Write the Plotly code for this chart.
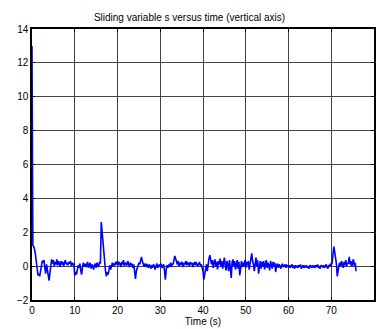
import numpy as np
import plotly.graph_objects as go

# Sliding variable s, sampled every 0.2 s from 0 to 75.8 s
dt = 0.2
s_values = [
    13.0, 1.25, 1.15, 1.0, 0.7, 0.35, -0.2, -0.55, -0.45, -0.6,
    -0.3, 0.05, 0.3, 0.25, 0.35, -0.1, -0.45, 0.1, -0.3, -0.55,
    -0.85, -0.4, 0.2, 0.4, 0.15, 0.35, 0.0, 0.25, 0.1, 0.4,
    0.05, 0.3, 0.15, -0.05, 0.3, 0.1, 0.25, 0.0, 0.2, 0.35,
    0.1, 0.2, 0.05, 0.25, 0.15, 0.3, 0.0, 0.2, 0.1, 0.15,
    -0.55, -0.35, -0.5, -0.2, 0.05, -0.1, 0.15, -0.25, -0.5, -0.1,
    0.2, 0.0, 0.15, -0.05, 0.1, 0.25, -0.1, 0.05, 0.2, -0.15,
    0.1, 0.0, -0.2, 0.05, 0.15, -0.1, 0.2, 0.05, -0.05, 0.25,
    0.15, 2.6, 2.0, 1.3, 0.6, 0.05, -0.3, -0.6, -0.35, -0.5,
    -0.1, 0.05, -0.2, 0.1, 0.2, 0.0, 0.15, 0.05, 0.25, 0.1,
    0.3, 0.05, 0.2, 0.15, -0.05, 0.25, 0.1, 0.35, 0.0, 0.2,
    0.15, 0.05, 0.3, 0.1, -0.05, 0.2, 0.05, 0.15, -0.1, 0.1,
    -0.2, -0.75, -0.3, -0.1, 0.05, 0.2, 0.1, 0.35, 0.55, 0.3,
    0.1, 0.0, 0.15, -0.05, 0.1, 0.05, -0.1, 0.1, 0.0, -0.15,
    0.05, -0.1, 0.1, 0.0, -0.2, 0.05, 0.15, -0.1, 0.0, 0.1,
    -0.05, 0.15, -0.1, 0.05, 0.1, -0.3, -0.8, -0.2, 0.05, -0.1,
    0.1, 0.0, 0.2, -0.05, 0.15, 0.1, 0.3, 0.6, 0.45, 0.2,
    0.1, 0.3, 0.0, 0.2, 0.05, 0.25, 0.15, -0.05, 0.2, 0.1,
    0.3, 0.05, 0.2, 0.15, 0.0, 0.25, 0.1, 0.2, -0.05, 0.15,
    0.2, 0.05, 0.25, 0.1, 0.0, 0.15, 0.2, 0.05, 0.1, -0.1,
    -0.3, -0.8, -0.55, -0.2, 0.1, -0.3, 0.2, 0.45, 0.65, 0.3,
    0.1, 0.35, -0.1, 0.2, 0.4, 0.0, 0.25, -0.2, 0.3, 0.1,
    0.45, 0.0, 0.3, -0.15, 0.25, 0.5, 0.05, -0.25, 0.3, 0.1,
    -0.3, 0.35, -0.1, -0.7, 0.2, 0.4, 0.0, 0.3, -0.2, 0.15,
    0.35, -0.15, 0.25, -0.55, 0.1, 0.3, -0.05, 0.2, 0.0, 0.35,
    -0.1, 0.25, 0.05, 0.3, -0.2, 0.2, 0.45, 0.75, 0.3, 0.1,
    -0.3, 0.2, 0.5, 0.0, 0.35, -0.45, 0.1, 0.3, -0.15, 0.25,
    0.0, 0.3, -0.2, 0.15, 0.35, -0.1, 0.2, 0.05, -0.25, 0.3,
    0.1, -0.15, 0.25, 0.0, 0.2, -0.35, 0.05, 0.15, -0.1, 0.1,
    0.0, -0.15, 0.05, 0.1, -0.05, 0.0, 0.1, -0.1, 0.05, 0.0,
    -0.05, 0.05, -0.1, 0.0, 0.1, -0.05, 0.0, -0.15, 0.05, -0.05,
    0.0, -0.1, 0.05, -0.05, 0.1, -0.15, 0.0, 0.05, -0.1, 0.0,
    -0.05, 0.05, -0.1, 0.0, -0.15, 0.05, 0.0, -0.1, 0.05, -0.05,
    0.0, -0.1, 0.05, -0.05, 0.1, -0.1, 0.0, -0.15, 0.05, 0.0,
    -0.05, 0.05, -0.1, 0.0, 0.1, -0.05, -0.15, 0.05, 0.0, 0.1,
    0.05, 0.2, 0.55, 1.15, 0.85, 0.5, 0.15, -0.6, -0.2, 0.05,
    0.2, 0.0, 0.3, 0.1, -0.1, 0.25, 0.05, 0.35, 0.0, 0.2,
    0.15, 0.55, 0.1, 0.3, -0.05, 0.25, 0.4, 0.0, 0.2, -0.3,
]
time_s = np.arange(len(s_values)) * dt

x_ticks = list(range(0, 81, 10))
y_ticks = list(range(-2, 15, 2))

font = dict(family="Liberation Sans, Arial, sans-serif", size=10, color="black")

fig = go.Figure(
    go.Scatter(
        x=time_s,
        y=s_values,
        mode="lines",
        line=dict(color="#0000ff", width=1.6),
        hoverinfo="skip",
    )
)

axis_common = dict(
    showline=True,
    linecolor="black",
    linewidth=1.5,
    mirror="ticks",
    ticks="inside",
    ticklen=3,
    tickcolor="black",
    showgrid=True,
    gridcolor="#444444",
    gridwidth=1,
    zeroline=False,
    tickfont=font,
)

fig.update_layout(
    width=379,
    height=329,
    margin=dict(l=32, r=3, t=29, b=29),
    paper_bgcolor="white",
    plot_bgcolor="white",
    showlegend=False,
    title=dict(
        text="Sliding variable s versus time (vertical axis)",
        font=font,
        x=0.5,
        xanchor="center",
        y=1 - 17 / 329,
        yanchor="middle",
    ),
    xaxis=dict(
        range=[0, 80],
        tickvals=x_ticks,
        title=dict(text="Time (s)", font=font, standoff=2),
        **axis_common,
    ),
    yaxis=dict(
        range=[-2, 14],
        tickvals=y_ticks,
        **axis_common,
    ),
)

fig.write_html("out.html")
